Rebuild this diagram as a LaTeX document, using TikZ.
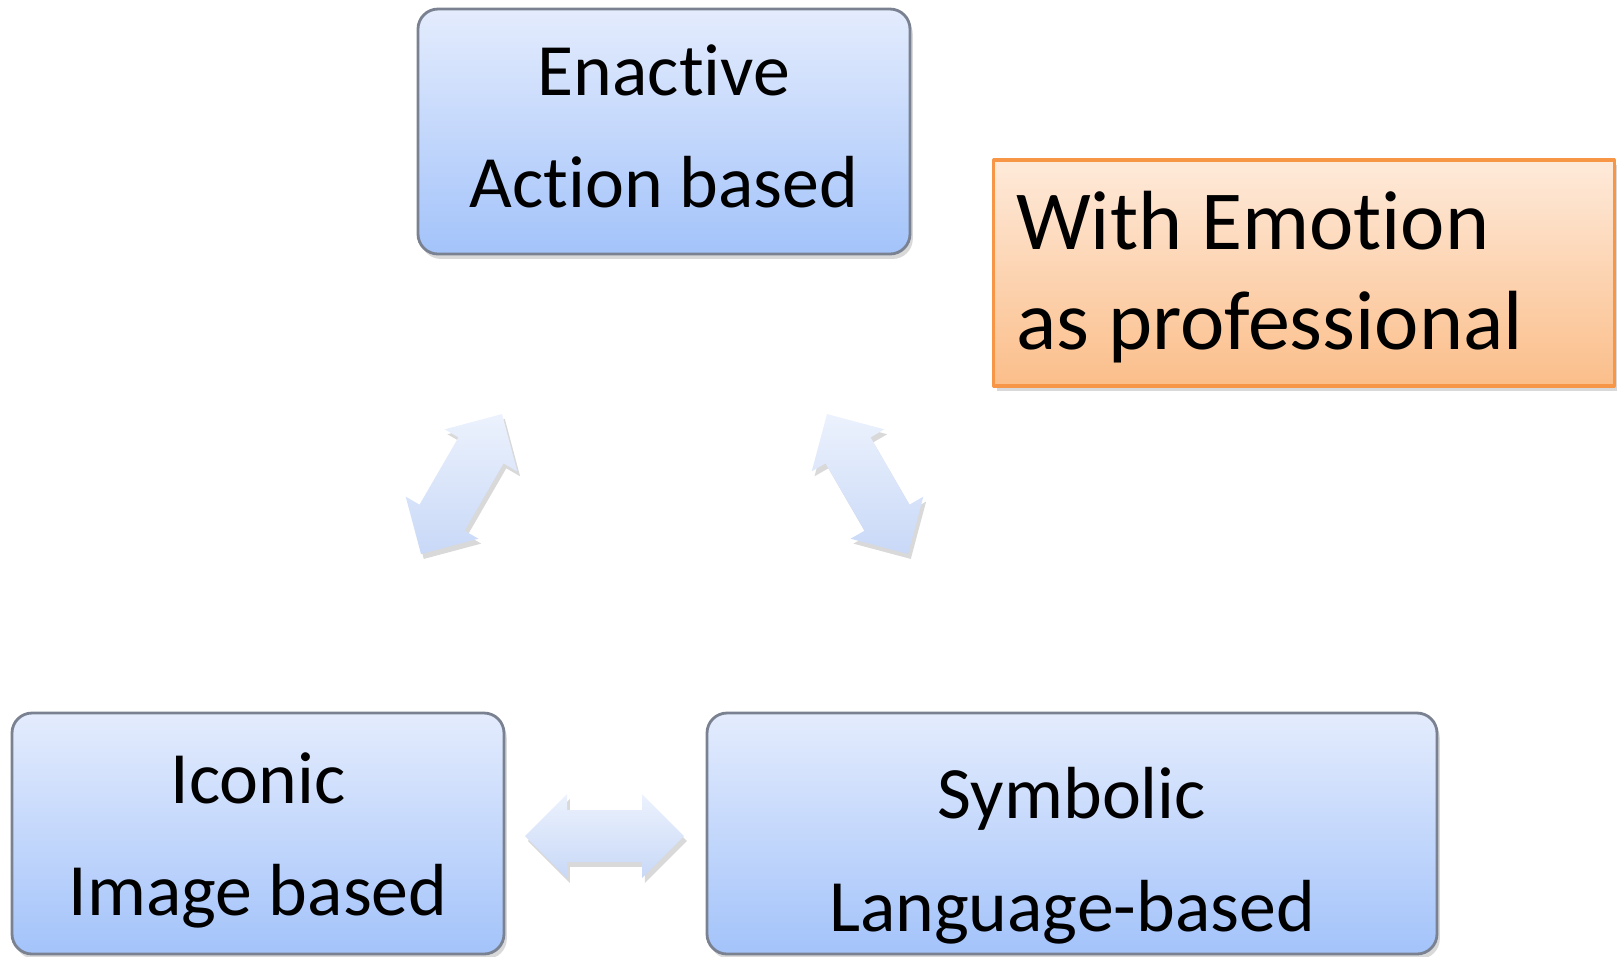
\documentclass[tikz,border=0pt]{standalone}
\usepackage{fontspec}
\setmainfont[Ligatures=NoCommon]{Carlito}
\usepackage{tikz}
\usetikzlibrary{calc,shadows}

\definecolor{boxtop}{RGB}{228,236,253}
\definecolor{boxbot}{RGB}{163,195,250}
\definecolor{boxline}{RGB}{122,130,145}
\definecolor{orgtop}{RGB}{254,234,218}
\definecolor{orgbot}{RGB}{251,190,138}
\definecolor{orgline}{RGB}{247,150,70}
\definecolor{arrtop}{RGB}{236,242,253}
\definecolor{arrbot}{RGB}{200,216,247}

% block double arrow between two tips
\newcommand{\dblarrow}[2]{%
  \path[arrowbody] (#1)
    -- ($(#1)!4.2mm!(#2)!4.2mm!90:(#2)$)
    -- ($(#1)!4.2mm!(#2)!2.6mm!90:(#2)$)
    -- ($(#2)!4.2mm!(#1)!2.6mm!-90:(#1)$)
    -- ($(#2)!4.2mm!(#1)!4.2mm!-90:(#1)$)
    -- (#2)
    -- ($(#2)!4.2mm!(#1)!4.2mm!90:(#1)$)
    -- ($(#2)!4.2mm!(#1)!2.6mm!90:(#1)$)
    -- ($(#1)!4.2mm!(#2)!2.6mm!-90:(#2)$)
    -- ($(#1)!4.2mm!(#2)!4.2mm!-90:(#2)$)
    -- cycle;}

\begin{document}
\begin{tikzpicture}[x=0.1mm, y=-0.1mm, line join=round,
  shade/.style={drop shadow={shadow xshift=0.8pt, shadow yshift=-1.4pt, opacity=.3}},
  bluebox/.style={shade, rectangle, rounded corners=2mm, draw=boxline, line width=0.8pt,
    top color=boxtop, bottom color=boxbot, inner sep=0pt, align=center,
    font=\fontsize{21}{31.9}\selectfont, text depth=5pt},
  orgbox/.style={shade, rectangle, draw=orgline, line width=0.9pt,
    top color=orgtop, bottom color=orgbot, inner xsep=6.3pt, inner ysep=0pt,
    align=flush left, text width=57.6mm, font=\fontsize{23.9}{28.45}\selectfont,
    text height=20pt, text depth=33.1pt},
  arrowbody/.style={shade, top color=arrtop, bottom color=arrbot}]
  \useasboundingbox (0,0) rectangle (1623,956);

  \node[bluebox, minimum width=49.2mm, minimum height=24.5mm, text height=48.5pt]
    (enactive) at (664,131.5) {Enactive\\Action based};
  \node[bluebox, minimum width=49.2mm, minimum height=24.1mm, text height=51.9pt]
    (iconic) at (258,833.5) {Iconic\\Image based};
  \node[bluebox, minimum width=73mm, minimum height=24.1mm, text height=60.5pt]
    (symbolic) at (1072,833.5) {Symbolic\\Language-based};
  \node[orgbox, minimum width=62mm, minimum height=22.6mm]
    (emotion) at (1304,273) {With Emotion\\as professional};

  \coordinate (EI1) at (502,414);
  \coordinate (EI2) at (421,554);
  \coordinate (ES1) at (827,414);
  \coordinate (ES2) at (908,554);
  \coordinate (IS1) at (525,836);
  \coordinate (IS2) at (684,836);
  \dblarrow{EI1}{EI2}
  \dblarrow{ES1}{ES2}
  \dblarrow{IS1}{IS2}
\end{tikzpicture}
\end{document}
